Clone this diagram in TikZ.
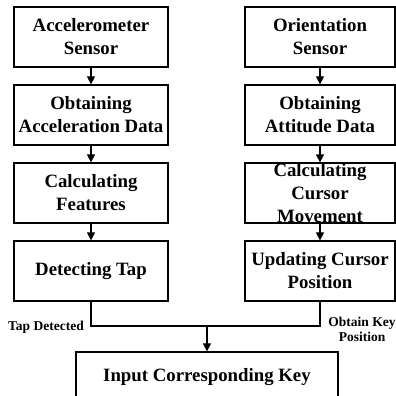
\documentclass[tikz,border=0pt]{standalone}
\usepackage{fontspec}
\setmainfont{Liberation Serif}
\usetikzlibrary{arrows.meta}
\tikzset{
  stepbox/.style={draw=black, line width=1.2pt, inner sep=0pt, align=center,
    font=\bfseries\fontsize{18.8}{23}\selectfont},
  lbox/.style={stepbox, minimum width=154pt, minimum height=60pt},
  rbox/.style={stepbox, minimum width=150pt, minimum height=60pt},
  flow/.style={line width=1.2pt, -{Triangle[length=8pt,width=8pt]}},
  plainline/.style={line width=1.2pt},
  small/.style={font=\bfseries\fontsize{13.5}{15}\selectfont, align=center, inner sep=0pt}
}
\begin{document}
\begin{tikzpicture}[x=1pt,y=1pt]
\useasboundingbox (0,0) rectangle (396,396);
\node[lbox] (l1) at (91,359) {Accelerometer\\Sensor};
\node[lbox] (l2) at (91,281) {Obtaining\\Acceleration Data};
\node[lbox] (l3) at (91,203) {Calculating\\Features};
\node[lbox] (l4) at (91,125) {Detecting Tap};
\node[rbox] (r1) at (320,359) {Orientation\\Sensor};
\node[rbox] (r2) at (320,281) {Obtaining\\Attitude Data};
\node[rbox] (r3) at (320,203) {Calculating\\Cursor\\Movement};
\node[rbox] (r4) at (320,125) {Updating Cursor\\Position};
\node[stepbox, minimum width=262pt, minimum height=50pt] (b5) at (207,19) {Input Corresponding Key};
\coordinate (j) at (207,70);
\draw[flow] (l1) -- (l2);
\draw[flow] (l2) -- (l3);
\draw[flow] (l3) -- (l4);
\draw[flow] (r1) -- (r2);
\draw[flow] (r2) -- (r3);
\draw[flow] (r3) -- (r4);
\draw[plainline] (l4.south) |- (r4.south |- j) -- (r4.south);
\draw[flow] (j) -- (b5.north);
\node[small, anchor=base] (tap) at (46,65) {Tap Detected};
\node[small] (key) at (362,67) {Obtain Key\\Position};
\end{tikzpicture}
\end{document}
